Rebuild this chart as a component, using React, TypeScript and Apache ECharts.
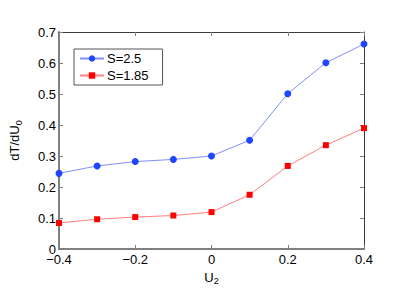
import React, { useEffect, useRef } from "react";
import * as echarts from "echarts";

const xValues = [-0.4, -0.3, -0.2, -0.1, 0, 0.1, 0.2, 0.3, 0.4];
const seriesA = [0.244, 0.268, 0.282, 0.289, 0.3, 0.351, 0.501, 0.601, 0.661];
const seriesB = [0.084, 0.096, 0.103, 0.108, 0.119, 0.175, 0.268, 0.335, 0.39];
const seriesNames = ["S=2.5", "S=1.85"];

const FONT = "Liberation Sans, Arial, Helvetica, sans-serif";

function fmtX(v: number): string {
  const r = Math.round(v * 10) / 10;
  if (r === 0) return "0";
  return r < 0 ? "\u2212" + Math.abs(r).toFixed(1) : r.toFixed(1);
}
function fmtY(v: number): string {
  const r = Math.round(v * 10) / 10;
  return r === 0 ? "0" : r.toFixed(1);
}

export default function App() {
  const ref = useRef<HTMLDivElement>(null);
  useEffect(() => {
    if (!ref.current) return;
    const chart = echarts.init(ref.current, undefined, { renderer: "svg" });
    const dataA = xValues.map((x, i) => [x, seriesA[i]]);
    const dataB = xValues.map((x, i) => [x, seriesB[i]]);
    const mainAxisLine = { show: true, onZero: false, lineStyle: { color: "#808080", width: 2 } };
    const boxAxisLine = { show: true, onZero: false, lineStyle: { color: "#3a3a3a", width: 1 } };
    chart.setOption({
      animation: false,
      backgroundColor: "#ffffff",
      textStyle: { fontFamily: FONT },
      grid: { left: 54, right: 51, top: 32, bottom: 46, containLabel: false },
      legend: {
        data: seriesNames,
        orient: "vertical",
        left: 74,
        top: 49,
        borderColor: "#555555",
        borderWidth: 1,
        padding: [3, 14, 3, 5],
        itemWidth: 24,
        itemHeight: 8,
        itemGap: 4,
        textStyle: { fontSize: 13, color: "#000", fontFamily: FONT, padding: [0, 0, 0, -2] },
      },
      xAxis: [
        {
          type: "value",
          min: -0.4,
          max: 0.4,
          interval: 0.2,
          name: "U{sub|2}",
          nameLocation: "middle",
          nameGap: 17,
          nameTextStyle: {
            fontSize: 13,
            color: "#000",
            fontFamily: FONT,
            rich: { sub: { fontSize: 9, verticalAlign: "bottom", padding: [8, 0, 0, 0], fontFamily: FONT } },
          },
          axisLine: mainAxisLine,
          axisTick: { show: true, inside: true, length: 4, lineStyle: { color: "#808080" } },
          axisLabel: { fontSize: 13, color: "#000", margin: 4, formatter: fmtX, fontFamily: FONT },
          splitLine: { show: false },
        },
        {
          type: "value",
          position: "top",
          min: -0.4,
          max: 0.4,
          interval: 0.2,
          axisLine: boxAxisLine,
          axisTick: { show: true, inside: true, length: 4, lineStyle: { color: "#808080" } },
          axisLabel: { show: false },
          splitLine: { show: false },
        },
      ],
      yAxis: [
        {
          type: "value",
          min: 0,
          max: 0.7,
          interval: 0.1,
          name: "dT/dU{sub|0}",
          nameLocation: "middle",
          nameGap: 36,
          nameTextStyle: {
            fontSize: 13,
            color: "#000",
            fontFamily: FONT,
            rich: { sub: { fontSize: 9, verticalAlign: "bottom", padding: [8, 0, 0, 0], fontFamily: FONT } },
          },
          axisLine: mainAxisLine,
          axisTick: { show: true, inside: true, length: 4, lineStyle: { color: "#808080" } },
          axisLabel: { fontSize: 13, color: "#000", margin: 3, formatter: fmtY, fontFamily: FONT },
          splitLine: { show: false },
        },
        {
          type: "value",
          position: "right",
          min: 0,
          max: 0.7,
          interval: 0.1,
          axisLine: boxAxisLine,
          axisTick: { show: true, inside: true, length: 4, lineStyle: { color: "#808080" } },
          axisLabel: { show: false },
          splitLine: { show: false },
        },
      ],
      series: [
        {
          name: seriesNames[0],
          type: "line",
          data: dataA,
          symbol: "circle",
          symbolSize: 7,
          itemStyle: { color: "#1f45ff" },
          lineStyle: { color: "#8090ff", width: 1 },
        },
        {
          name: seriesNames[1],
          type: "line",
          data: dataB,
          symbol: "rect",
          symbolSize: 6,
          itemStyle: { color: "#ff0000" },
          lineStyle: { color: "#ff8080", width: 1 },
        },
      ],
    });
    return () => chart.dispose();
  }, []);
  return (
    <div
      ref={ref}
      style={{ position: "fixed", left: 0, top: 0, width: 415, height: 295, background: "#fff" }}
    />
  );
}
